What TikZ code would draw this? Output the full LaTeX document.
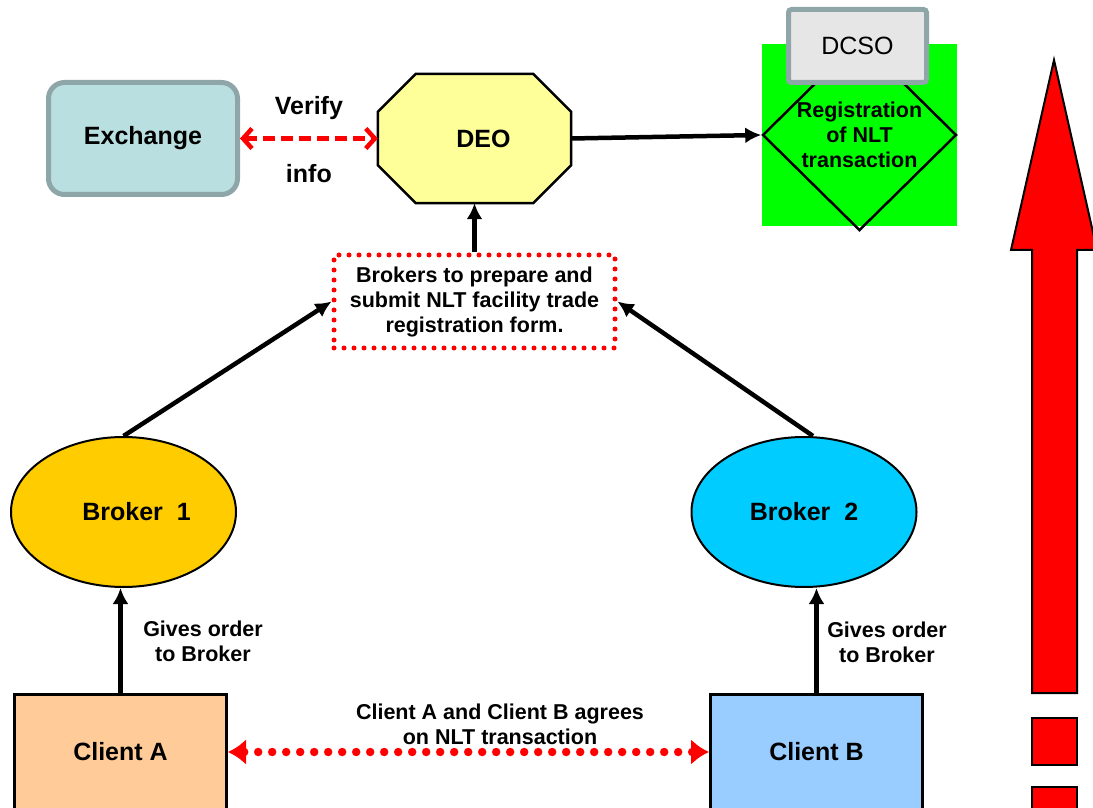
\documentclass[tikz,border=0pt]{standalone}
\usepackage{fontspec}
\setmainfont{Liberation Sans}
\usepackage{tikz}
\usetikzlibrary{arrows.meta}
\usetikzlibrary{shapes.geometric,backgrounds}

\definecolor{exfill}{HTML}{B9DFE1}
\definecolor{graybd}{HTML}{8FA6A9}
\definecolor{deofill}{HTML}{FFFF99}
\definecolor{regfill}{HTML}{00FF00}
\definecolor{dcsofill}{HTML}{E6E6E6}
\definecolor{bkone}{HTML}{FFCC00}
\definecolor{bktwo}{HTML}{00CCFF}
\definecolor{cafill}{HTML}{FFCC99}
\definecolor{cbfill}{HTML}{99CCFF}

\newcommand{\lbl}{\fontsize{25}{28}\selectfont\bfseries}
\newcommand{\sml}{\fontsize{21.5}{25}\selectfont\bfseries}

\tikzset{
  client/.style={draw, line width=3pt, minimum width=212pt, minimum height=115pt,
                 inner sep=0pt, font=\lbl},
  broker/.style={ellipse, draw, line width=2pt, minimum width=225pt, minimum height=150pt,
                 inner sep=0pt, font=\lbl},
  arr/.style={->, line width=4.5pt},
  note/.style={font=\sml, align=center, inner sep=0pt},
  reddots/.style={red, line width=#1, dash pattern=on 0pt off 10pt, line cap=round},
}

\begin{document}
\begin{tikzpicture}[x=1pt, y=1pt, >={Latex[length=16pt,width=16pt]}]
    \useasboundingbox (0,0) rectangle (1093,807);
    \clip (0,0) rectangle (1093,807);

    % top row
    \node[draw=graybd, fill=exfill, line width=5pt, rounded corners=16pt,
          minimum width=189pt, minimum height=112pt, font=\lbl] (exc) at (143,668.5) {Exchange};
    \node[minimum width=193pt, minimum height=129pt, inner sep=0pt, font=\lbl] (deo) at (474.5,668.5) {\hspace*{18pt}DEO};
    \begin{scope}[on background layer]
      \draw[line width=2.5pt, fill=deofill]
        ([xshift=38pt]deo.north west) -- ([xshift=-38pt]deo.north east)
        -- ([yshift=-38pt]deo.north east) -- ([yshift=38pt]deo.south east)
        -- ([xshift=-38pt]deo.south east) -- ([xshift=38pt]deo.south west)
        -- ([yshift=38pt]deo.south west) -- ([yshift=-38pt]deo.north west) -- cycle;
    \end{scope}

    \node[fill=regfill, minimum width=195pt, minimum height=182pt] (regbg) at (859.5,672) {};
    \node[diamond, draw, line width=2.5pt, minimum width=194pt, minimum height=184pt,
          inner sep=0pt, note] (reg) at (regbg.center) {Registration\\of NLT\\transaction};
    \node[draw=graybd, fill=dcsofill, line width=5pt, rounded corners=3pt,
          minimum width=138pt, minimum height=73pt, font=\fontsize{25}{28}\selectfont] (dcso) at (857.5,761) {DCSO};

    \draw[red, line width=4.5pt, dash pattern=on 12pt off 6pt,
          {Straight Barb[length=9pt,width=20pt]}-{Straight Barb[length=9pt,width=20pt]}]
      (exc.east) -- node[above=17pt, font=\lbl, inner sep=0pt, text=black] (ver) {Verify}
                    node[below=24pt, font=\lbl, inner sep=0pt, text=black] (inf) {info} (deo.west);
    \draw[arr] (deo.east) -- (reg.west);

    % middle
    \node[draw, reddots=5pt, minimum width=281pt, minimum height=93pt, note, text=black]
      (form) at (474.5,505.5) {Brokers to prepare and\\submit NLT facility trade\\registration form.};
    \draw[arr] (form.north) -- (form.north |- deo.south);

    \node[broker, fill=bkone] (b1) at (123.5,295) {\hspace*{26pt}Broker~~1};
    \node[broker, fill=bktwo] (b2) at (804,295) {Broker~~2};
    \draw[arr] (b1.north) -- (form.west);
    \draw[arr] ([xshift=9pt]b2.north) -- (form.east);

    % bottom
    \node[client, fill=cafill] (ca) at (120.5,55) {Client A};
    \node[client, fill=cbfill] (cb) at (816.5,55) {Client B};
    \draw[arr] (ca.north) -- (ca.north |- b1.south);
    \draw[arr] (cb.north) -- (cb.north |- b2.south);
    \node[note] (orda) at (203,166) {Gives order\\to Broker};
    \node[note] (ordb) at (887,165) {Gives order\\to Broker};

    \draw[reddots=8.5pt, dash pattern=on 0pt off 14pt,
          {Latex[length=18pt,width=26pt]}-{Latex[length=18pt,width=26pt]}] (ca.east) -- (cb.west);
    \node[note] (agree) at (500,83) {Client A and Client B agrees\\on NLT transaction};

    % big red arrow on the right
    \draw[line width=2pt, fill=red]
      (1032,114) -- (1032,557) -- (1011,557) -- (1054,747) -- (1097,557)
      -- (1077,557) -- (1077,114) -- cycle;
    \draw[line width=2pt, fill=red] (1032,42) rectangle (1077,89);
    \draw[line width=2pt, fill=red] (1032,-40) rectangle (1077,20);
\end{tikzpicture}
\end{document}
